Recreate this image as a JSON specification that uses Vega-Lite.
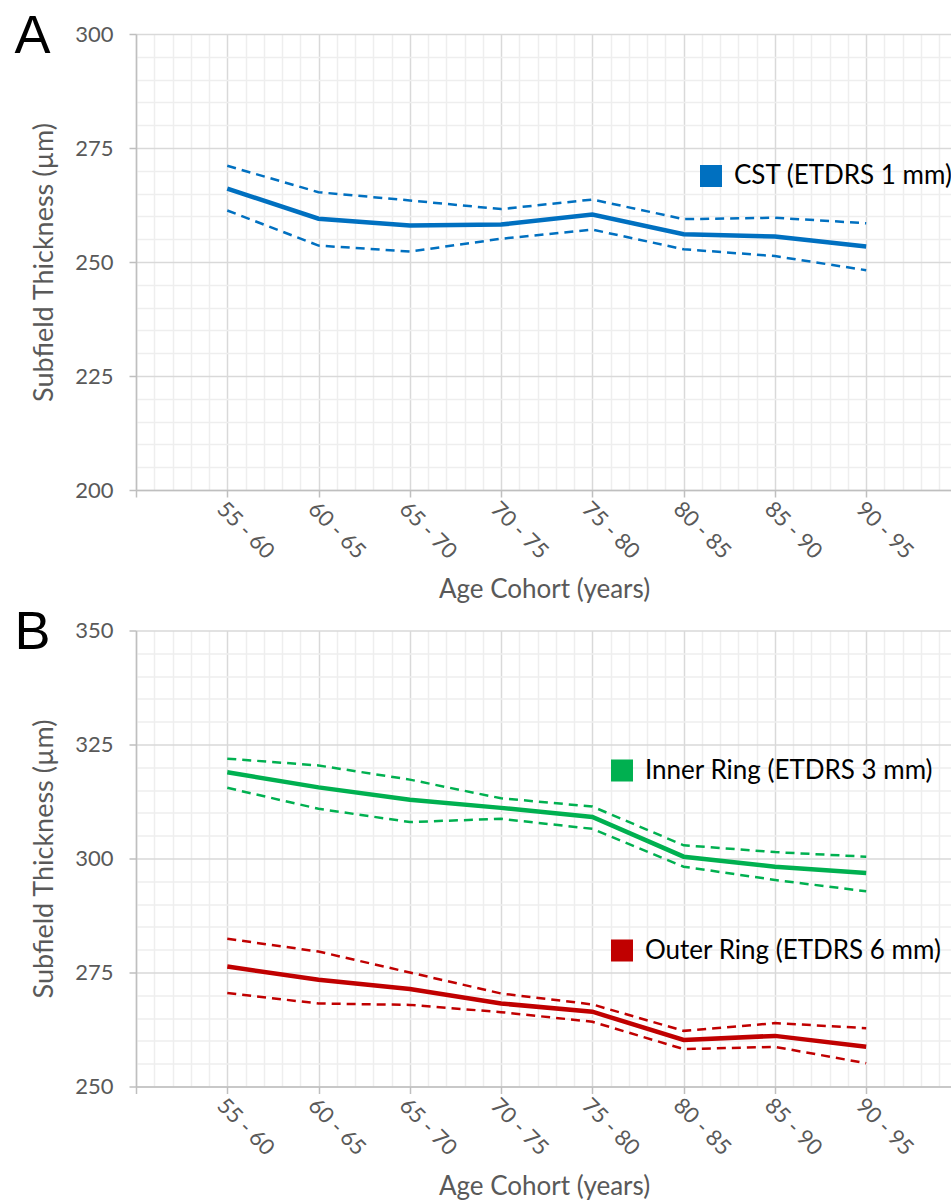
{
  "$schema": "https://vega.github.io/schema/vega-lite/v6.json",
  "padding": {"left": 14, "top": 9, "right": 0, "bottom": 0},
  "spacing": 2.5,
  "config": {"view": {"stroke": null}, "font": "Lato"},
  "datasets": {
    "thickness": [
      {"region": "CST (ETDRS 1 mm)", "cohort": "55 - 60", "age_mid": 57.5, "mean": 266.1, "lower": 261.3, "upper": 271.1},
      {"region": "CST (ETDRS 1 mm)", "cohort": "60 - 65", "age_mid": 62.5, "mean": 259.5, "lower": 253.6, "upper": 265.3},
      {"region": "CST (ETDRS 1 mm)", "cohort": "65 - 70", "age_mid": 67.5, "mean": 258.0, "lower": 252.3, "upper": 263.5},
      {"region": "CST (ETDRS 1 mm)", "cohort": "70 - 75", "age_mid": 72.5, "mean": 258.2, "lower": 255.1, "upper": 261.6},
      {"region": "CST (ETDRS 1 mm)", "cohort": "75 - 80", "age_mid": 77.5, "mean": 260.4, "lower": 257.1, "upper": 263.7},
      {"region": "CST (ETDRS 1 mm)", "cohort": "80 - 85", "age_mid": 82.5, "mean": 256.1, "lower": 252.8, "upper": 259.4},
      {"region": "CST (ETDRS 1 mm)", "cohort": "85 - 90", "age_mid": 87.5, "mean": 255.6, "lower": 251.3, "upper": 259.7},
      {"region": "CST (ETDRS 1 mm)", "cohort": "90 - 95", "age_mid": 92.5, "mean": 253.4, "lower": 248.2, "upper": 258.5},
      {"region": "Inner Ring (ETDRS 3 mm)", "cohort": "55 - 60", "age_mid": 57.5, "mean": 318.9, "lower": 315.5, "upper": 321.9},
      {"region": "Inner Ring (ETDRS 3 mm)", "cohort": "60 - 65", "age_mid": 62.5, "mean": 315.6, "lower": 310.9, "upper": 320.4},
      {"region": "Inner Ring (ETDRS 3 mm)", "cohort": "65 - 70", "age_mid": 67.5, "mean": 312.9, "lower": 308.0, "upper": 317.3},
      {"region": "Inner Ring (ETDRS 3 mm)", "cohort": "70 - 75", "age_mid": 72.5, "mean": 311.1, "lower": 308.7, "upper": 313.2},
      {"region": "Inner Ring (ETDRS 3 mm)", "cohort": "75 - 80", "age_mid": 77.5, "mean": 309.1, "lower": 306.5, "upper": 311.4},
      {"region": "Inner Ring (ETDRS 3 mm)", "cohort": "80 - 85", "age_mid": 82.5, "mean": 300.4, "lower": 298.2, "upper": 302.9},
      {"region": "Inner Ring (ETDRS 3 mm)", "cohort": "85 - 90", "age_mid": 87.5, "mean": 298.2, "lower": 295.3, "upper": 301.4},
      {"region": "Inner Ring (ETDRS 3 mm)", "cohort": "90 - 95", "age_mid": 92.5, "mean": 296.8, "lower": 292.8, "upper": 300.4},
      {"region": "Outer Ring (ETDRS 6 mm)", "cohort": "55 - 60", "age_mid": 57.5, "mean": 276.3, "lower": 270.5, "upper": 282.4},
      {"region": "Outer Ring (ETDRS 6 mm)", "cohort": "60 - 65", "age_mid": 62.5, "mean": 273.4, "lower": 268.2, "upper": 279.6},
      {"region": "Outer Ring (ETDRS 6 mm)", "cohort": "65 - 70", "age_mid": 67.5, "mean": 271.4, "lower": 267.9, "upper": 275.0},
      {"region": "Outer Ring (ETDRS 6 mm)", "cohort": "70 - 75", "age_mid": 72.5, "mean": 268.2, "lower": 266.3, "upper": 270.4},
      {"region": "Outer Ring (ETDRS 6 mm)", "cohort": "75 - 80", "age_mid": 77.5, "mean": 266.4, "lower": 264.2, "upper": 268.0},
      {"region": "Outer Ring (ETDRS 6 mm)", "cohort": "80 - 85", "age_mid": 82.5, "mean": 260.2, "lower": 258.2, "upper": 262.2},
      {"region": "Outer Ring (ETDRS 6 mm)", "cohort": "85 - 90", "age_mid": 87.5, "mean": 261.1, "lower": 258.7, "upper": 263.9},
      {"region": "Outer Ring (ETDRS 6 mm)", "cohort": "90 - 95", "age_mid": 92.5, "mean": 258.7, "lower": 255.1, "upper": 262.8}
    ]
  },
  "resolve": {"scale": {"color": "independent"}, "legend": {"color": "independent"}},
  "vconcat": [
    {
      "width": 816,
      "height": 456,
      "data": {"name": "thickness"},
      "transform": [{"filter": "datum.region === 'CST (ETDRS 1 mm)'"}],
      "resolve": {"axis": {"x": "independent", "y": "independent"}},
      "layer": [
        {
          "mark": {"type": "line", "strokeWidth": 2.5, "strokeDash": [9, 6]},
          "encoding": {
            "x": {"field": "age_mid", "type": "quantitative", "scale": {"domain": [52.5, 97.2], "nice": false, "zero": false},
              "axis": {"orient": "bottom", "values": [53.5,54.5,55.5,56.5,58.5,59.5,60.5,61.5,63.5,64.5,65.5,66.5,68.5,69.5,70.5,71.5,73.5,74.5,75.5,76.5,78.5,79.5,80.5,81.5,83.5,84.5,85.5,86.5,88.5,89.5,90.5,91.5,93.5,94.5,95.5,96.5], "grid": true, "gridColor": "#eeeeee", "gridWidth": 1.5, "domain": false, "ticks": false, "labels": false, "title": null}},
            "y": {"field": "upper", "type": "quantitative", "scale": {"domain": [200, 300], "nice": false, "zero": false},
              "axis": {"orient": "left", "values": [205,210,215,220,230,235,240,245,255,260,265,270,280,285,290,295], "grid": true, "gridColor": "#eeeeee", "gridWidth": 1.5, "domain": false, "ticks": false, "labels": false,
                "title": "A", "titleAngle": 0, "titleX": -122, "titleY": 18, "titleAlign": "left", "titleBaseline": "alphabetic", "titleFont": "Liberation Sans", "titleFontSize": 54, "titleFontWeight": "normal", "titleColor": "#000000"}},
            "color": {"field": "region", "type": "nominal", "scale": {"domain": ["CST (ETDRS 1 mm)"], "range": ["#0070C0"]},
              "legend": {"orient": "none", "legendX": 562, "legendY": 129, "title": null, "symbolType": "square", "symbolSize": 420, "symbolStrokeWidth": 1.5, "labelFontSize": 26, "labelLimit": 500, "labelColor": "#000000", "labelOffset": 10, "padding": 0,
                "encode": {"symbols": {"update": {"fill": {"value": "#0070C0"}, "stroke": {"value": "#7f7f7f"}, "opacity": {"value": 1}, "strokeDash": {"value": [1, 0]}}}}}}
          }
        },
        {
          "mark": {"type": "line", "strokeWidth": 2.5, "strokeDash": [9, 6]},
          "encoding": {
            "x": {"field": "age_mid", "type": "quantitative",
              "axis": {"orient": "bottom", "values": [52.5,57.5,62.5,67.5,72.5,77.5,82.5,87.5,92.5], "grid": true, "gridColor": "#d9d9d9", "gridWidth": 1.5, "domain": true, "domainColor": "#bfbfbf", "domainWidth": 1.5, "ticks": true, "tickSize": 7, "tickColor": "#bfbfbf", "tickWidth": 1.5, "labelAngle": 45, "labelFontSize": 22, "labelColor": "#595959", "labelPadding": 1, "labelFlush": false, "labelOverlap": false, "labelExpr": "datum.value < 55 ? '' : (datum.value - 2.5) + ' - ' + (datum.value + 2.5)", "title": "Age Cohort (years)", "titleFontSize": 26, "titleFontWeight": "normal", "titleColor": "#595959", "titlePadding": 14}},
            "y": {"field": "lower", "type": "quantitative",
              "axis": {"orient": "left", "values": [200, 225, 250, 275, 300], "grid": true, "gridColor": "#d9d9d9", "gridWidth": 1.5, "domain": true, "domainColor": "#bfbfbf", "domainWidth": 1.5, "ticks": true, "tickSize": 7, "tickColor": "#bfbfbf", "tickWidth": 1.5, "labelFontSize": 22, "labelColor": "#595959", "labelPadding": 16, "labelFlush": false, "title": "Subfield Thickness (µm)", "titleFontSize": 27, "titleFontWeight": "normal", "titleColor": "#595959", "titlePadding": 16}},
            "color": {"field": "region", "type": "nominal"}
          }
        },
        {
          "mark": {"type": "line", "strokeWidth": 4.5},
          "encoding": {
            "x": {"field": "age_mid", "type": "quantitative", "axis": null},
            "y": {"field": "mean", "type": "quantitative", "axis": null},
            "color": {"field": "region", "type": "nominal"}
          }
        }
      ]
    },
    {
      "width": 816,
      "height": 456,
      "data": {"name": "thickness"},
      "transform": [{"filter": "datum.region !== 'CST (ETDRS 1 mm)'"}],
      "resolve": {"axis": {"x": "independent", "y": "independent"}},
      "layer": [
        {
          "mark": {"type": "line", "strokeWidth": 2.5, "strokeDash": [9, 6]},
          "encoding": {
            "x": {"field": "age_mid", "type": "quantitative", "scale": {"domain": [52.5, 97.2], "nice": false, "zero": false},
              "axis": {"orient": "bottom", "values": [53.5,54.5,55.5,56.5,58.5,59.5,60.5,61.5,63.5,64.5,65.5,66.5,68.5,69.5,70.5,71.5,73.5,74.5,75.5,76.5,78.5,79.5,80.5,81.5,83.5,84.5,85.5,86.5,88.5,89.5,90.5,91.5,93.5,94.5,95.5,96.5], "grid": true, "gridColor": "#eeeeee", "gridWidth": 1.5, "domain": false, "ticks": false, "labels": false, "title": null}},
            "y": {"field": "upper", "type": "quantitative", "scale": {"domain": [250, 350], "nice": false, "zero": false},
              "axis": {"orient": "left", "values": [255,260,265,270,280,285,290,295,305,310,315,320,330,335,340,345], "grid": true, "gridColor": "#eeeeee", "gridWidth": 1.5, "domain": false, "ticks": false, "labels": false,
                "title": "B", "titleAngle": 0, "titleX": -122, "titleY": 18, "titleAlign": "left", "titleBaseline": "alphabetic", "titleFont": "Liberation Sans", "titleFontSize": 54, "titleFontWeight": "normal", "titleColor": "#000000"}},
            "color": {"field": "region", "type": "nominal", "scale": {"domain": ["Inner Ring (ETDRS 3 mm)", "Outer Ring (ETDRS 6 mm)"], "range": ["#00B050", "#C00000"]},
              "legend": {"orient": "none", "legendX": 473, "legendY": 127, "title": null, "symbolType": "square", "symbolSize": 420, "symbolStrokeWidth": 1.5, "labelFontSize": 26, "labelLimit": 500, "labelColor": "#000000", "labelOffset": 10, "padding": 0, "rowPadding": 152,
                "encode": {"symbols": {"update": {"fill": {"signal": "datum.value === 'Inner Ring (ETDRS 3 mm)' ? '#00B050' : '#C00000'"}, "stroke": {"value": "#7f7f7f"}, "opacity": {"value": 1}, "strokeDash": {"value": [1, 0]}}}}}}
          }
        },
        {
          "mark": {"type": "line", "strokeWidth": 2.5, "strokeDash": [9, 6]},
          "encoding": {
            "x": {"field": "age_mid", "type": "quantitative",
              "axis": {"orient": "bottom", "values": [52.5,57.5,62.5,67.5,72.5,77.5,82.5,87.5,92.5], "grid": true, "gridColor": "#d9d9d9", "gridWidth": 1.5, "domain": true, "domainColor": "#bfbfbf", "domainWidth": 1.5, "ticks": true, "tickSize": 7, "tickColor": "#bfbfbf", "tickWidth": 1.5, "labelAngle": 45, "labelFontSize": 22, "labelColor": "#595959", "labelPadding": 1, "labelFlush": false, "labelOverlap": false, "labelExpr": "datum.value < 55 ? '' : (datum.value - 2.5) + ' - ' + (datum.value + 2.5)", "title": "Age Cohort (years)", "titleFontSize": 26, "titleFontWeight": "normal", "titleColor": "#595959", "titlePadding": 14}},
            "y": {"field": "lower", "type": "quantitative",
              "axis": {"orient": "left", "values": [250, 275, 300, 325, 350], "grid": true, "gridColor": "#d9d9d9", "gridWidth": 1.5, "domain": true, "domainColor": "#bfbfbf", "domainWidth": 1.5, "ticks": true, "tickSize": 7, "tickColor": "#bfbfbf", "tickWidth": 1.5, "labelFontSize": 22, "labelColor": "#595959", "labelPadding": 16, "labelFlush": false, "title": "Subfield Thickness (µm)", "titleFontSize": 27, "titleFontWeight": "normal", "titleColor": "#595959", "titlePadding": 16}},
            "color": {"field": "region", "type": "nominal"}
          }
        },
        {
          "mark": {"type": "line", "strokeWidth": 4.5},
          "encoding": {
            "x": {"field": "age_mid", "type": "quantitative", "axis": null},
            "y": {"field": "mean", "type": "quantitative", "axis": null},
            "color": {"field": "region", "type": "nominal"}
          }
        }
      ]
    }
  ]
}
